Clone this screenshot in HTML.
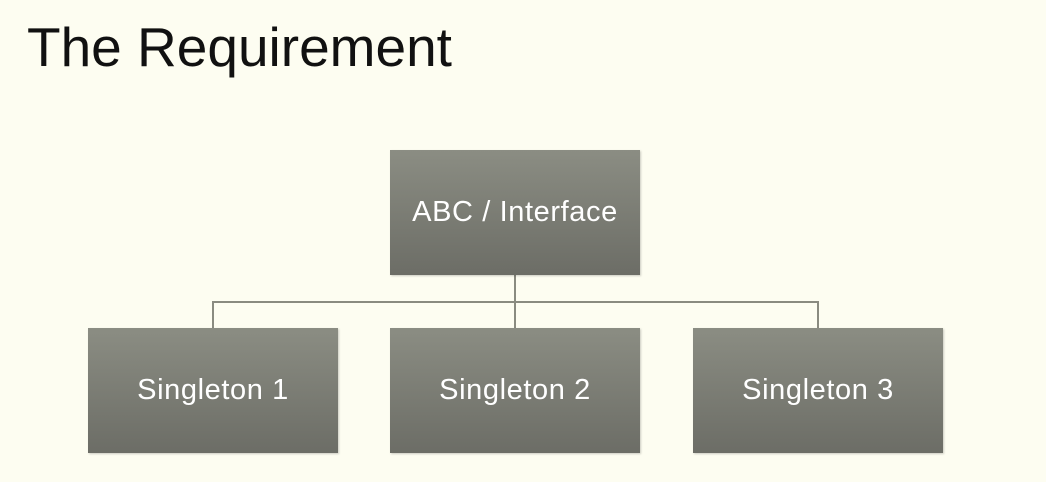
<!DOCTYPE html>
<html><head><style>
body{margin:0;width:1046px;height:482px;background:#fdfdf1;position:relative;overflow:hidden;font-family:"Liberation Sans",sans-serif}
.t{position:absolute;left:27px;top:15px;font-size:55px;color:#111;letter-spacing:0px}
.b{position:absolute;width:250px;height:125px;background:linear-gradient(#8b8d83,#6c6d66);color:#fff;font-size:29px;letter-spacing:0.6px;display:flex;align-items:center;justify-content:center;box-shadow:1px 1px 2px rgba(0,0,0,.2)}
.l{position:absolute;background:#8a8b80}
</style></head><body>
<div class="t">The Requirement</div>
<div class="l" style="left:514px;top:275px;width:2px;height:53px"></div>
<div class="l" style="left:212px;top:301px;width:607px;height:2px"></div>
<div class="l" style="left:212px;top:301px;width:2px;height:27px"></div>
<div class="l" style="left:817px;top:301px;width:2px;height:27px"></div>
<div class="b" style="left:390px;top:150px">ABC / Interface</div>
<div class="b" style="left:88px;top:328px">Singleton 1</div>
<div class="b" style="left:390px;top:328px">Singleton 2</div>
<div class="b" style="left:693px;top:328px">Singleton 3</div>
</body></html>
